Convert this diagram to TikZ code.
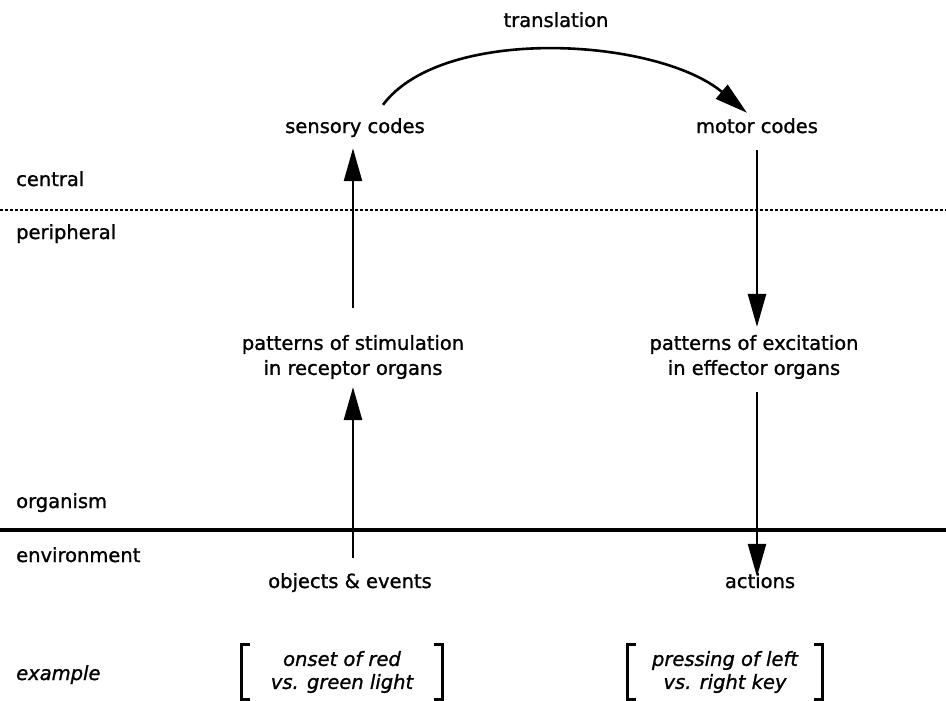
\documentclass[tikz,border=0pt]{standalone}
\usepackage{fontspec}
\setmainfont{DejaVu Sans}[FakeBold=1.2]
\usetikzlibrary{arrows.meta}

\tikzset{
    lbl/.style={inner sep=2pt, text height=14pt, text depth=4pt},
    side/.style={lbl, anchor=west},
    twoline/.style={align=center, inner sep=2pt},
    flow/.style={-{Triangle[length=33pt,width=18pt]}, line width=2.6pt},
    exbox/.style={align=center, inner sep=0pt, minimum height=54pt,
                  font=\itshape\fontsize{19.5}{23}\selectfont},
    bracket/.style={line width=2.8pt},
}

\begin{document}
\begin{tikzpicture}[x=1pt, y=-1pt, font=\fontsize{19.5}{25}\selectfont]
    \useasboundingbox (0,0) rectangle (946,701);

    % level boundaries
    \coordinate (dotL) at (0,210);
    \coordinate (dotR) at (946,210);
    \coordinate (solL) at (0,530);
    \coordinate (solR) at (946,530);
    \draw [line width=1.4pt, dash pattern=on 3pt off 2pt] (dotL) -- (dotR);
    \draw [line width=3.2pt] (solL) -- (solR);

    \node [side] (central)  at (14,181) {central};
    \node [side] (periph)   at (14,234) {peripheral};
    \node [side] (organism) at (14,503) {organism};
    \node [side] (environ)  at (14,557) {environment};
    \node [side, font=\itshape\fontsize{19.5}{25}\selectfont] (example) at (14,675) {example};

    % the two columns
    \node [lbl] (trans)   at (556,22)  {translation};
    \node [lbl] (sens)    at (355,128) {sensory codes};
    \node [lbl] (motor)   at (757,128) {motor codes};
    \node [twoline] (stim)  at (353,357) {patterns of stimulation\\in receptor organs};
    \node [twoline] (excit) at (754,357) {patterns of excitation\\in effector organs};
    \node [lbl] (objects) at (350,583) {objects \& events};
    \node [lbl] (actions) at (760,583) {actions};

    \node [exbox, minimum width=200pt] (exL) at (342,672) {onset of red\\vs. green light};
    \node [exbox, minimum width=194pt] (exR) at (725,672) {pressing of left\\vs. right key};

    % arrows
    \draw [flow, shorten <=14pt, shorten >=6pt]  (objects.north -| stim) -- (stim);
    \draw [flow, shorten <=25pt, shorten >=9pt]  (stim) -- (stim |- sens.south);
    \draw [flow] ([xshift=28pt,yshift=12pt]sens.north)
        .. controls +(60,-80) and +(-90,-75) .. ([xshift=-10pt,yshift=4pt]motor.north);
    \draw [flow, shorten <=11pt, shorten >=6pt]  (motor) -- (motor |- excit.north);
    \draw [flow, shorten <=11pt, shorten >=-5pt] (excit.south -| motor) -- (motor |- actions.north);

    % brackets round the examples
    \foreach \b in {exL,exR} {
        \draw [bracket] ([xshift=8pt]\b.north west) -- (\b.north west)
            -- (\b.south west) -- ([xshift=8pt]\b.south west);
        \draw [bracket] ([xshift=-8pt]\b.north east) -- (\b.north east)
            -- (\b.south east) -- ([xshift=-8pt]\b.south east);
    }
\end{tikzpicture}
\end{document}
